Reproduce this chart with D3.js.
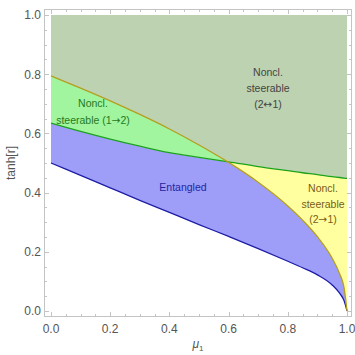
<!DOCTYPE html>
<html>
<head>
<meta charset="utf-8">
<script src="https://cdn.jsdelivr.net/npm/d3@7"></script>
<style>
  body { margin: 0; background: #fff; }
  svg text { font-family: "Liberation Sans", Arial, sans-serif; }
</style>
</head>
<body>
<div id="chart"></div>
<script>
// Boundary curves: mu1 vs tanh[r]
const mu = [0, 0.1, 0.2, 0.3, 0.4, 0.5, 0.6, 0.7, 0.8, 0.85, 0.9, 0.95, 0.975, 0.99, 1];
const entangledEdge = [0.5, 0.458, 0.416, 0.374, 0.333, 0.292, 0.252, 0.211, 0.168, 0.146, 0.122, 0.088, 0.06, 0.035, 0];
const steer12Edge = [0.635, 0.607, 0.581, 0.557, 0.535, 0.519, 0.504, 0.488, 0.474, 0.467, 0.461, 0.454, 0.451, 0.449, 0.448];
const steer21Edge = [0.794, 0.753, 0.71, 0.664, 0.615, 0.561, 0.502, 0.435, 0.355, 0.307, 0.251, 0.178, 0.126, 0.079, 0];

const xTicks = [0, 0.2, 0.4, 0.6, 0.8, 1.0];
const yTicks = [0, 0.2, 0.4, 0.6, 0.8, 1.0];

const W = 355, H = 355;

const x = d3.scaleLinear().domain([0, 1]).range([51, 347]);
const y = d3.scaleLinear().domain([0, 1]).range([311, 15]);

const svg = d3.select("#chart").append("svg")
  .attr("width", W).attr("height", H);

const pts = (vals) => mu.map((m, i) => [m, vals[i]]);

// area under a curve, down to y=0
const under = d3.area().x(d => x(d[0])).y0(y(0)).y1(d => y(d[1])).curve(d3.curveMonotoneX);
const line = d3.line().x(d => x(d[0])).y(d => y(d[1])).curve(d3.curveMonotoneX);

const defs = svg.append("defs");
defs.append("clipPath").attr("id", "underOlive")
  .append("path").attr("d", under(pts(steer21Edge)));

// Noncl. steerable (2<->1): whole square
svg.append("rect")
  .attr("x", x(0)).attr("y", y(1))
  .attr("width", x(1) - x(0)).attr("height", y(0) - y(1))
  .attr("fill", "#bdd2b1");

// under 2->1 edge: light green (1->2 steerable where above green)
svg.append("path").attr("d", under(pts(steer21Edge))).attr("fill", "#a0f59e");
// under 1->2 edge: yellow (2->1 steerable where above olive)
svg.append("path").attr("d", under(pts(steer12Edge))).attr("fill", "#ffff9f");
// under both: entangled
svg.append("path").attr("d", under(pts(steer12Edge)))
  .attr("clip-path", "url(#underOlive)").attr("fill", "#9e9ef8");
// below entangled edge: white
svg.append("path").attr("d", under(pts(entangledEdge))).attr("fill", "#fff");

// boundary lines
svg.append("path").attr("d", line(pts(entangledEdge)))
  .attr("fill", "none").attr("stroke", "#1c1ca6").attr("stroke-width", 1.3);
svg.append("path").attr("d", line(pts(steer12Edge)))
  .attr("fill", "none").attr("stroke", "#1ca31c").attr("stroke-width", 1.3);
svg.append("path").attr("d", line(pts(steer21Edge)))
  .attr("fill", "none").attr("stroke", "#b59f1f").attr("stroke-width", 1.3);

// Frame
const fl = 44.5, fr = 351.5, ft = 9.5, fb = 316.5;
const frameCol = "#c4c4c4";
svg.append("rect")
  .attr("x", fl).attr("y", ft).attr("width", fr - fl).attr("height", fb - ft)
  .attr("fill", "none").attr("stroke", frameCol).attr("stroke-width", 1);

const minor = d3.range(0, 1.0001, 0.05);
const isMajor = v => Math.abs(v * 5 - Math.round(v * 5)) < 1e-6;

const tickG = svg.append("g").attr("stroke", frameCol).attr("stroke-width", 1);
minor.forEach(v => {
  const len = isMajor(v) ? 4.5 : 2.5;
  const px = Math.round(x(v)) + 0.5, py = Math.round(y(v)) + 0.5;
  // bottom & top
  tickG.append("line").attr("x1", px).attr("x2", px).attr("y1", fb).attr("y2", fb - len);
  tickG.append("line").attr("x1", px).attr("x2", px).attr("y1", ft).attr("y2", ft + len);
  // left & right
  tickG.append("line").attr("y1", py).attr("y2", py).attr("x1", fl).attr("x2", fl + len);
  tickG.append("line").attr("y1", py).attr("y2", py).attr("x1", fr).attr("x2", fr - len);
});

const fmt = d3.format(".1f");
svg.append("g").selectAll("text").data(xTicks).join("text")
  .attr("x", d => x(d)).attr("y", 333)
  .attr("text-anchor", "middle")
  .attr("font-size", 12).attr("fill", "#555")
  .text(fmt);
svg.append("g").selectAll("text").data(yTicks).join("text")
  .attr("x", 41).attr("y", d => y(d) + 4.3)
  .attr("text-anchor", "end")
  .attr("font-size", 12).attr("fill", "#555")
  .text(fmt);

// Axis labels
svg.append("text")
  .attr("transform", "translate(15," + (y(0.5)) + ") rotate(-90)")
  .attr("text-anchor", "middle")
  .attr("font-size", 12).attr("fill", "#555")
  .text("tanh[r]");

const xl = svg.append("text")
  .attr("x", 198).attr("y", 348)
  .attr("text-anchor", "middle")
  .attr("font-size", 12).attr("fill", "#555");
xl.append("tspan").attr("font-style", "italic").text("μ");
xl.append("tspan").attr("font-size", 8).attr("dy", 3).text("1");

// Region labels; arrows drawn with DejaVu Sans so they keep full width
function label(lines, cx, cys, color) {
  lines.forEach((t, i) => {
    const el = svg.append("text")
      .attr("x", cx).attr("y", cys[i] + 3.8)
      .attr("text-anchor", "middle")
      .attr("font-size", 10.5).attr("fill", color);
    t.split(/([→↔])/).forEach(part => {
      if (!part) return;
      const sp = el.append("tspan").text(part);
      if (part === "→" || part === "↔") sp.attr("font-family", "DejaVu Sans");
    });
  });
}
label(["Noncl.", "steerable (1→2)"], 93, [103, 120], "#237a23");
label(["Entangled"], 183, [187], "#2424a0");
label(["Noncl.", "steerable", "(2→1)"], 323, [188, 204, 219], "#7a5c16");
label(["Noncl.", "steerable", "(2↔1)"], 268, [72, 88, 104], "#444");
</script>
</body>
</html>
